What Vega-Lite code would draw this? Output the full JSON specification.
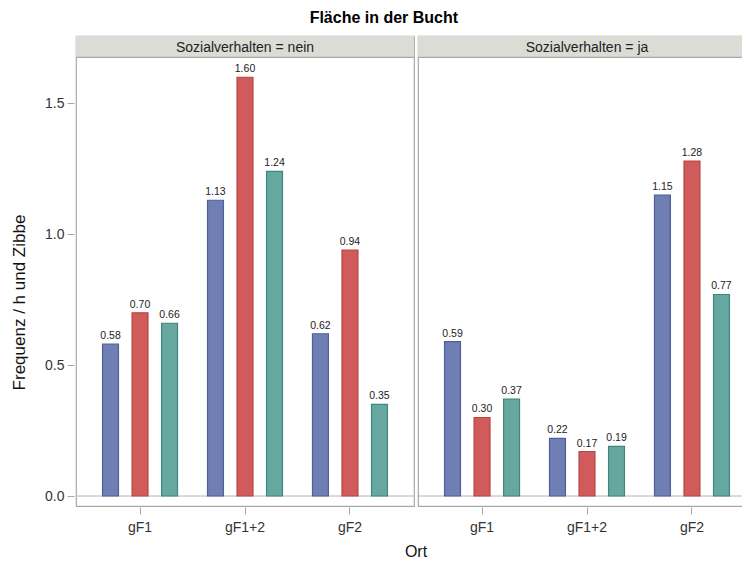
{
  "$schema": "https://vega.github.io/schema/vega-lite/v6.json",
  "background": "white",
  "padding": {"left": 10, "top": 9, "right": 0, "bottom": 0},
  "title": {"text": "Fläche in der Bucht", "font": "Liberation Sans", "fontSize": 16, "fontWeight": "bold", "color": "#000000", "anchor": "middle", "dx": 0, "offset": 9.5},
  "config": {
    "font": "Liberation Sans",
    "view": {"stroke": "#a8a8a8", "strokeWidth": 1.2}
  },
  "data": {"values": [
    {"Panel": "Sozialverhalten = nein", "Ort": "gF1", "Gruppe": "A", "Wert": 0.58},
    {"Panel": "Sozialverhalten = nein", "Ort": "gF1", "Gruppe": "B", "Wert": 0.70},
    {"Panel": "Sozialverhalten = nein", "Ort": "gF1", "Gruppe": "C", "Wert": 0.66},
    {"Panel": "Sozialverhalten = nein", "Ort": "gF1+2", "Gruppe": "A", "Wert": 1.13},
    {"Panel": "Sozialverhalten = nein", "Ort": "gF1+2", "Gruppe": "B", "Wert": 1.60},
    {"Panel": "Sozialverhalten = nein", "Ort": "gF1+2", "Gruppe": "C", "Wert": 1.24},
    {"Panel": "Sozialverhalten = nein", "Ort": "gF2", "Gruppe": "A", "Wert": 0.62},
    {"Panel": "Sozialverhalten = nein", "Ort": "gF2", "Gruppe": "B", "Wert": 0.94},
    {"Panel": "Sozialverhalten = nein", "Ort": "gF2", "Gruppe": "C", "Wert": 0.35},
    {"Panel": "Sozialverhalten = ja", "Ort": "gF1", "Gruppe": "A", "Wert": 0.59},
    {"Panel": "Sozialverhalten = ja", "Ort": "gF1", "Gruppe": "B", "Wert": 0.30},
    {"Panel": "Sozialverhalten = ja", "Ort": "gF1", "Gruppe": "C", "Wert": 0.37},
    {"Panel": "Sozialverhalten = ja", "Ort": "gF1+2", "Gruppe": "A", "Wert": 0.22},
    {"Panel": "Sozialverhalten = ja", "Ort": "gF1+2", "Gruppe": "B", "Wert": 0.17},
    {"Panel": "Sozialverhalten = ja", "Ort": "gF1+2", "Gruppe": "C", "Wert": 0.19},
    {"Panel": "Sozialverhalten = ja", "Ort": "gF2", "Gruppe": "A", "Wert": 1.15},
    {"Panel": "Sozialverhalten = ja", "Ort": "gF2", "Gruppe": "B", "Wert": 1.28},
    {"Panel": "Sozialverhalten = ja", "Ort": "gF2", "Gruppe": "C", "Wert": 0.77}
  ]},
  "facet": {"column": {"field": "Panel", "type": "nominal", "sort": ["Sozialverhalten = nein", "Sozialverhalten = ja"],
            "header": {"title": "Ort", "titleOrient": "bottom", "titleFontSize": 16, "titleFontWeight": "normal", "titleColor": "#111111", "titlePadding": 0, "labels": false, "labelOrient": "bottom"}}},
  "spacing": 0,
  "spec": {
    "width": 338,
    "height": 470,
    "encoding": {
      "y": {"type": "quantitative", "scale": {"domain": [-0.0382, 1.7576], "nice": false, "zero": false}}
    },
    "layer": [
      {
        "mark": {"type": "rect", "fill": "#dcdcd7", "stroke": null},
        "transform": [{"filter": "datum.Ort == 'gF1' && datum.Gruppe == 'A'"}],
        "encoding": {
          "y": {"datum": 1.7576, "type": "quantitative"},
          "y2": {"datum": 1.6756}
        }
      },
      {
        "mark": {"type": "rule", "color": "#a8a8a8", "strokeWidth": 1.2},
        "transform": [{"filter": "datum.Ort == 'gF1' && datum.Gruppe == 'A'"}],
        "encoding": {"y": {"datum": 1.6756, "type": "quantitative"}}
      },
      {
        "mark": {"type": "rule", "color": "#b4b4b4", "strokeWidth": 1},
        "transform": [{"filter": "datum.Ort == 'gF1' && datum.Gruppe == 'A'"}],
        "encoding": {"y": {"datum": 0, "type": "quantitative"}}
      },
      {
        "mark": {"type": "text", "fontSize": 14, "color": "#222222", "baseline": "middle", "dy": 1},
        "transform": [{"filter": "datum.Ort == 'gF1' && datum.Gruppe == 'A'"}],
        "encoding": {
          "y": {"datum": 1.7166, "type": "quantitative"},
          "text": {"field": "Panel"}
        }
      },
      {
        "mark": {"type": "bar", "strokeWidth": 1.2},
        "encoding": {
          "x": {"field": "Ort", "type": "nominal", "sort": ["gF1", "gF1+2", "gF2"],
                "scale": {"paddingInner": 0.1, "paddingOuter": 0.16},
                "axis": {"title": null,
                         "labelFontSize": 14, "labelColor": "#333333", "labelAngle": 0, "labelPadding": 6,
                         "tickSize": 7, "tickColor": "#a8a8a8", "domain": false}},
          "xOffset": {"field": "Gruppe", "type": "nominal", "scale": {"paddingInner": 0.46, "paddingOuter": 0.33}},
          "y": {"field": "Wert", "type": "quantitative",
                "axis": {"title": "Frequenz / h und Zibbe", "titleFontSize": 17, "titleFontWeight": "normal", "titleColor": "#111111", "titlePadding": 16, "titleY": 266,
                         "values": [0, 0.5, 1, 1.5], "format": ".1f", "labelFontSize": 14, "labelColor": "#333333", "labelPadding": 3,
                         "tickSize": 7, "tickColor": "#a8a8a8", "domain": false, "grid": false}},
          "color": {"field": "Gruppe", "type": "nominal", "legend": null,
                    "scale": {"domain": ["A", "B", "C"], "range": ["#6f7eb3", "#d15a5a", "#66a8a0"]}},
          "stroke": {"field": "Gruppe", "type": "nominal", "legend": null,
                    "scale": {"domain": ["A", "B", "C"], "range": ["#4f5f9c", "#b84444", "#3f877d"]}}
        }
      },
      {
        "mark": {"type": "text", "fontSize": 10.5, "color": "#222222", "baseline": "alphabetic", "dy": -5},
        "encoding": {
          "x": {"field": "Ort", "type": "nominal", "sort": ["gF1", "gF1+2", "gF2"]},
          "xOffset": {"field": "Gruppe", "type": "nominal"},
          "y": {"field": "Wert", "type": "quantitative"},
          "text": {"field": "Wert", "type": "quantitative", "format": ".2f"}
        }
      }
    ]
  }
}
